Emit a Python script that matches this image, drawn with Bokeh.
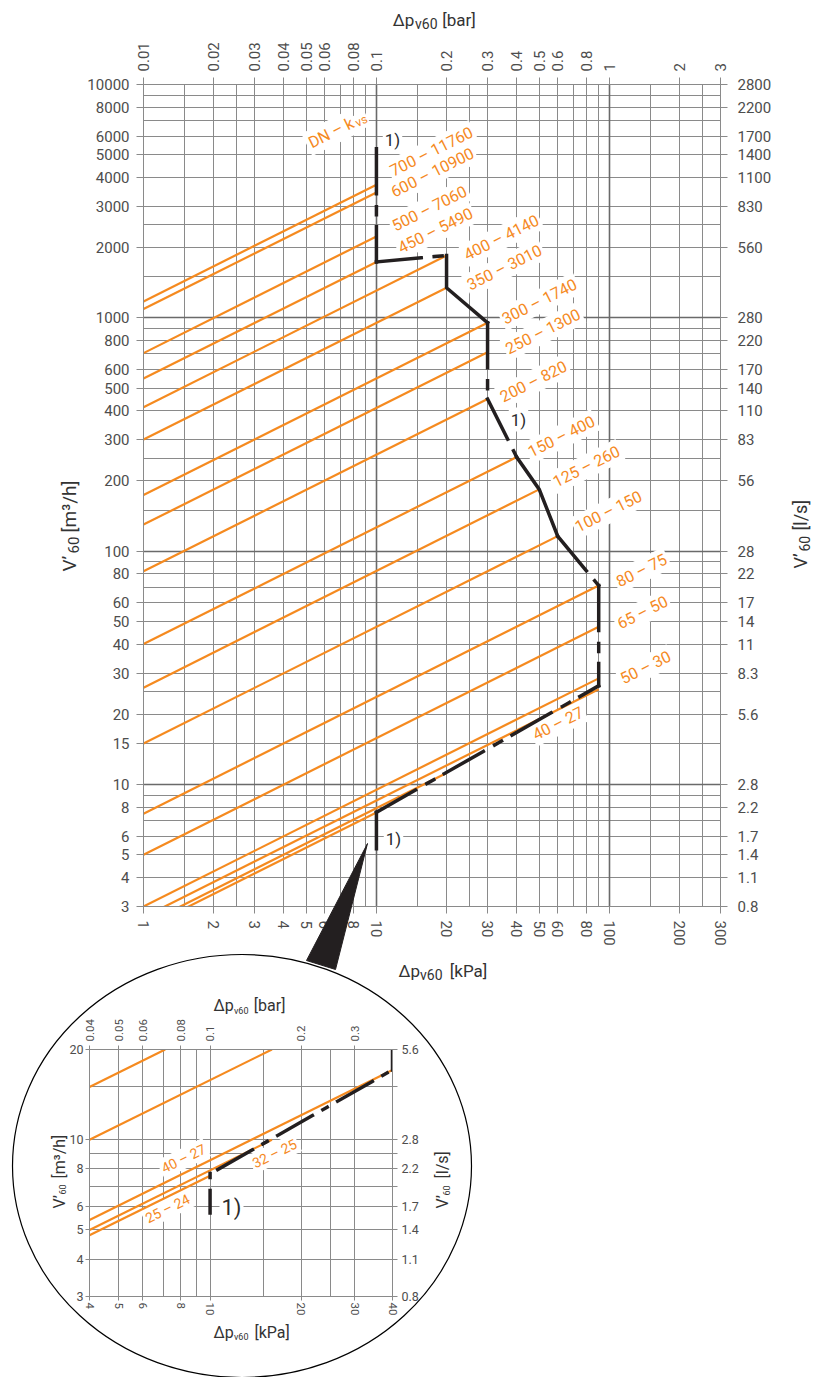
import math
from bokeh.plotting import figure
from bokeh.models import Range1d, LogScale, LogAxis, FixedTicker, Grid, Label, GridBox
from bokeh.core.properties import value
from bokeh.embed import file_html
from bokeh.resources import INLINE

# ------------------------------------------------------------------ data
# Main chart: x = Δp_v60 [kPa], y = V'60 [m³/h]; one straight line per DN – kvs
dn_kvs_labels = ["700 – 11760", "600 – 10900", "500 – 7060", "450 – 5490",
                 "400 – 4140", "350 – 3010", "300 – 1740", "250 – 1300",
                 "200 – 820", "150 – 400", "125 – 260", "100 – 150",
                 "80 – 75", "65 – 50", "50 – 30", "40 – 27", "32 – 25", "25 – 24"]
line_dp_start = [1, 1, 1, 1, 1, 1, 1, 1, 1, 1, 1, 1, 1, 1, 1, 1, 1, 1]
line_q_start = [1176, 1090, 706, 549, 414, 301, 174, 130, 82, 40, 26, 15, 7.5, 5.0, 3.0, 2.7, 2.5, 2.4]
line_dp_end = [10, 10, 10, 10, 20, 20, 30, 30, 30, 40, 50, 60, 90, 90, 90, 90, 20, 10]
line_q_end = [3719, 3447, 2233, 1736, 1851, 1346, 953, 712, 449, 253, 184, 116, 71.2, 47.4, 28.5, 25.6, 11.2, 7.59]

# black limit curve (vertices)
limit_dp = [10, 10, 20, 20, 30, 30, 40, 50, 60, 90, 90, 10, 10]
limit_q = [5300, 1736, 1851, 1346, 953, 449, 253, 184, 116, 71.2, 26.5, 7.6, 5.3]

kpa_ticks = [1, 2, 3, 4, 5, 6, 8, 10, 20, 30, 40, 50, 60, 80, 100, 200, 300]
bar_ticks = [0.01, 0.02, 0.03, 0.04, 0.05, 0.06, 0.08, 0.1, 0.2, 0.3, 0.4, 0.5, 0.6, 0.8, 1, 2, 3]
m3h_ticks = [3, 4, 5, 6, 8, 10, 15, 20, 30, 40, 50, 60, 80, 100, 200, 300, 400, 500, 600, 800,
             1000, 2000, 3000, 4000, 5000, 6000, 8000, 10000]
ls_ticks = [3, 4, 5, 6, 8, 10, 20, 30, 40, 50, 60, 80, 100, 200, 300, 400, 500, 600, 800,
            1000, 2000, 3000, 4000, 5000, 6000, 8000, 10000]
ls_labels = ["0.8", "1.1", "1.4", "1.7", "2.2", "2.8", "5.6", "8.3", "11", "14", "17", "22", "28",
             "56", "83", "110", "140", "170", "220", "280", "560", "830", "1100", "1400", "1700",
             "2200", "2800"]
grid_kpa = [1, 1.5, 2, 2.5, 3, 4, 5, 6, 7, 8, 9, 10, 15, 20, 25, 30, 40, 50, 60, 70, 80, 90,
            100, 150, 200, 250, 300]
grid_m3h = [3, 4, 5, 6, 7, 8, 9, 10, 15, 20, 25, 30, 40, 50, 60, 70, 80, 90,
            100, 150, 200, 250, 300, 400, 500, 600, 700, 800, 900,
            1000, 1500, 2000, 2500, 3000, 4000, 5000, 6000, 7000, 8000, 9000, 10000]
decade_kpa = [10, 100]
decade_m3h = [10, 100, 1000]

# Inset (detail 4–40 kPa)
inset_labels = ["40 – 27", "32 – 25", "25 – 24"]
inset_dp_start = [4, 4, 4, 4, 4]
inset_q_start = [15, 10, 5.4, 5.0, 4.8]
inset_dp_end = [7.11, 16, 40, 16, 10]
inset_q_end = [20, 20, 17.1, 10, 7.59]
inset_limit_dp = [40, 40, 10.6, 10, 10]
inset_limit_q = [20.6, 17.1, 7.95, 7.72, 5.7]
inset_kpa_ticks = [4, 5, 6, 8, 10, 20, 30, 40]
inset_bar_ticks = [0.04, 0.05, 0.06, 0.08, 0.1, 0.2, 0.3]
inset_m3h_ticks = [3, 4, 5, 6, 8, 10, 20]
inset_ls_ticks = [3, 4, 5, 6, 7, 8, 9, 10, 15, 20]
inset_ls_labels = ["0.8", "1.1", "1.4", "1.7", "", "2.2", "", "2.8", "", "5.6"]
inset_grid_kpa = [4, 5, 6, 7, 8, 9, 10, 15, 20, 25, 30, 40]
inset_grid_m3h = [3, 4, 5, 6, 7, 8, 9, 10, 15, 20]

# ------------------------------------------------------------------ style
W, H = 819, 1377
FONT = "Roboto"
ORANGE = "#F58A1F"
BLACK = "#231F20"
GRID = "#8A8A8A"
GRID_DARK = "#6A6A6A"
TICK_TXT = "#4D4D4D"
TITLE = "#333333"
DASH = "45 13 8 12"

# main frame borders (canvas px)
ML, MR, MT, MB = 143, 99, 84, 471
X0, X1, Y0, Y1 = 1, 300, 3, 10000
# inset frame borders
IL, IR, IT, IB = 89, 427, 1049, 81
IX0, IX1, IY0, IY1 = 4, 40, 3, 20


def to_data(px, py, l, r, t, b, x0, x1, y0, y1):
    fx = (px - l) / (W - l - r)
    fy = (H - b - py) / (H - t - b)
    x = 10 ** (math.log10(x0) + fx * (math.log10(x1) - math.log10(x0)))
    y = 10 ** (math.log10(y0) + fy * (math.log10(y1) - math.log10(y0)))
    return x, y


def mxy(px, py):
    return to_data(px, py, ML, MR, MT, MB, X0, X1, Y0, Y1)


def ixy(px, py):
    return to_data(px, py, IL, IR, IT, IB, IX0, IX1, IY0, IY1)


def style_axis(ax, ticks, labels, size, standoff, tick_out, orient=None):
    ax.ticker = FixedTicker(ticks=ticks, minor_ticks=[])
    ax.major_label_overrides = {t: s for t, s in zip(ticks, labels)}
    ax.major_label_text_font = FONT
    ax.major_label_text_font_size = size
    ax.major_label_text_color = TICK_TXT
    ax.major_label_standoff = standoff
    ax.major_tick_out = tick_out
    ax.major_tick_in = 0
    ax.minor_tick_out = 0
    ax.minor_tick_in = 0
    ax.axis_line_color = GRID
    ax.major_tick_line_color = GRID
    ax.axis_label = None
    if orient is not None:
        ax.major_label_orientation = orient


def add_grid(fig, dim, ticks, color, width):
    fig.add_layout(Grid(dimension=dim, ticker=FixedTicker(ticks=ticks, minor_ticks=[]),
                        grid_line_color=color, grid_line_width=width))


def text(fig, xy, s, size, color=TITLE, align="left", baseline="alphabetic", angle=0.0, **kw):
    """in-frame annotation (knocks out grid lines)"""
    fig.add_layout(Label(x=xy[0], y=xy[1], text=s, text_font=FONT, text_font_size=f"{size}px",
                         text_color=color, text_align=align, text_baseline=baseline,
                         angle=angle, **kw))


def title(fig, xy, s, size, angle=0.0, color=TITLE):
    """text outside the frame (overlay level glyph, not clipped)"""
    fig.text(x=[xy[0]], y=[xy[1]], text=[s], text_font=value(FONT), text_font_size=f"{size}px",
             text_color=color, text_align="left", text_baseline="alphabetic", angle=angle,
             level="overlay")


def seg(fig, xs, ys, dash, width=3.5):
    fig.line(xs, ys, line_color=BLACK, line_width=width, line_dash=dash,
             line_cap="square", line_join="miter")


# ------------------------------------------------------------------ main figure
p = figure(width=W, height=H, x_axis_type="log", y_axis_type="log",
           x_range=Range1d(X0, X1), y_range=Range1d(Y0, Y1),
           output_backend="svg", toolbar_location=None,
           min_border_left=ML, min_border_right=MR, min_border_top=MT, min_border_bottom=MB,
           background_fill_color="white", border_fill_color="white",
           outline_line_color=GRID)
p.frame_align = False
p.grid.visible = False
p.extra_x_ranges = {"bar": Range1d(X0 / 100, X1 / 100)}
p.extra_x_scales = {"bar": LogScale()}

style_axis(p.below[0], kpa_ticks, [f"{t:g}" for t in kpa_ticks], "15px", 7, 7, "vertical")
style_axis(p.left[0], m3h_ticks, [f"{t:g}" for t in m3h_ticks], "15px", 7, 7)
top = LogAxis(x_range_name="bar")
style_axis(top, bar_ticks, [f"{t:g}" for t in bar_ticks], "15px", 6, 7, "vertical")
p.add_layout(top, "above")
right = LogAxis()
style_axis(right, ls_ticks, ls_labels, "15px", 10, 7)
p.add_layout(right, "right")

add_grid(p, 0, grid_kpa, GRID, 1)
add_grid(p, 1, grid_m3h, GRID, 1)
add_grid(p, 0, decade_kpa, GRID_DARK, 1.6)
add_grid(p, 1, decade_m3h, GRID_DARK, 1.6)

ang = math.atan(0.5 * ((H - MT - MB) / math.log10(Y1 / Y0)) / ((W - ML - MR) / math.log10(X1 / X0)))

# labels that knock out the grid (drawn under the lines)
main_label_px = [(431, 151), (432, 172), (429, 208), (435, 230), (501, 237), (504, 267),
                 (539, 301), (542.5, 331), (533, 381), (561, 436), (586, 466), (608, 511),
                 (641, 570), (642, 612), (645, 667), (557.5, 723)]
for s, (px, py) in zip(dn_kvs_labels[:16], main_label_px):
    text(p, mxy(px, py), s, 16, ORANGE, "center", "middle", ang,
         background_fill_color="white", padding=2, level="underlay")

# "DN – kvs"
ax_, ay_ = 355, 120
text(p, mxy(ax_, ay_), "DN – k", 16, ORANGE, "right", "middle", ang,
     background_fill_color="white", padding=3, level="underlay")
text(p, mxy(ax_, ay_), "vs", 12, ORANGE, "left", "middle", ang,
     background_fill_color="white", padding=1, level="underlay",
     x_offset=-2 * math.cos(ang) + 3 * math.sin(ang), y_offset=-2 * math.sin(ang) - 3 * math.cos(ang))

for (px, py) in [(392, 139), (518, 419), (393, 838)]:
    text(p, mxy(px, py), "1)", 17, "#2B2B2B", "center", "middle", 0,
         background_fill_color="white", padding=2, level="underlay")

# orange DN lines
p.multi_line(xs=[[a, b] for a, b in zip(line_dp_start, line_dp_end)],
             ys=[[a, b] for a, b in zip(line_q_start, line_q_end)],
             line_color=ORANGE, line_width=2.2)

# black limit curve: (from vertex, to vertex, style)
runs = [(0, 1, DASH), (1, 2, DASH), (2, 4, "solid"), (4, 5, DASH), (5, 6, DASH),
        (6, 8, "solid"), (8, 9, DASH), (9, 10, DASH), (11, 10, DASH), (11, 12, "solid")]
for a, b, d in runs:
    idx = list(range(a, b + 1)) if a < b else list(range(a, b - 1, -1))
    seg(p, [limit_dp[i] for i in idx], [limit_q[i] for i in idx], d)

# pointer triangle towards the inset
tri = [mxy(367, 843), mxy(306, 960), mxy(335, 969)]
p.patch([t[0] for t in tri], [t[1] for t in tri], fill_color=BLACK, line_color=BLACK,
        line_width=1, level="overlay")

# axis titles
title(p, mxy(392.3, 19.5), "Δp", 17)
title(p, mxy(414.5, 23.5), "v60", 14)
title(p, mxy(441.7, 19.5), "[bar]", 17)
title(p, mxy(398, 970), "Δp", 17)
title(p, mxy(419.5, 974), "v60", 14)
title(p, mxy(449.3, 970), "[kPa]", 17)
title(p, mxy(69, 571), "V’", 19, math.pi / 2)
title(p, mxy(72.5, 553), "60", 15, math.pi / 2)
title(p, mxy(69, 532), "[m³/h]", 19, math.pi / 2)
title(p, mxy(800, 568), "V’", 18, math.pi / 2)
title(p, mxy(803.5, 551), "60", 14, math.pi / 2)
title(p, mxy(800, 530), "[l/s]", 18, math.pi / 2)

# ------------------------------------------------------------------ inset figure
q = figure(width=W, height=H, x_axis_type="log", y_axis_type="log",
           x_range=Range1d(IX0, IX1), y_range=Range1d(IY0, IY1),
           output_backend="svg", toolbar_location=None,
           min_border_left=IL, min_border_right=IR, min_border_top=IT, min_border_bottom=IB,
           background_fill_color="white", border_fill_color=None,
           outline_line_color=GRID)
q.frame_align = False
q.grid.visible = False
q.extra_x_ranges = {"bar": Range1d(IX0 / 100, IX1 / 100)}
q.extra_x_scales = {"bar": LogScale()}
style_axis(q.below[0], inset_kpa_ticks, [f"{t:g}" for t in inset_kpa_ticks], "11.5px", 2, 4, "vertical")
style_axis(q.left[0], inset_m3h_ticks, [f"{t:g}" for t in inset_m3h_ticks], "12.5px", 2, 4)
itop = LogAxis(x_range_name="bar")
style_axis(itop, inset_bar_ticks, [f"{t:g}" for t in inset_bar_ticks], "11.5px", 4, 4, "vertical")
q.add_layout(itop, "above")
iright = LogAxis()
style_axis(iright, inset_ls_ticks, inset_ls_labels, "12.5px", 4, 5)
q.add_layout(iright, "right")

add_grid(q, 0, inset_grid_kpa, GRID, 1)
add_grid(q, 1, inset_grid_m3h, GRID, 1)

iang = math.atan(0.5 * ((H - IT - IB) / math.log10(IY1 / IY0)) / ((W - IL - IR) / math.log10(IX1 / IX0)))
for s, (px, py) in zip(inset_labels, [(183, 1158), (274, 1153), (167, 1208)]):
    text(q, ixy(px, py), s, 14, ORANGE, "center", "middle", iang,
         background_fill_color="white", padding=2, level="underlay")
text(q, ixy(231, 1207), "1)", 22, "#2B2B2B", "center", "middle", 0,
     background_fill_color="white", padding=2, level="underlay")

q.multi_line(xs=[[a, b] for a, b in zip(inset_dp_start, inset_dp_end)],
             ys=[[a, b] for a, b in zip(inset_q_start, inset_q_end)],
             line_color=ORANGE, line_width=2.2)
seg(q, inset_limit_dp[0:2], inset_limit_q[0:2], "solid")
seg(q, [inset_limit_dp[2], inset_limit_dp[1]], [inset_limit_q[2], inset_limit_q[1]], "40 12 5 12")
seg(q, inset_limit_dp[3:5], inset_limit_q[3:5], "4 13 40")

# inset titles
title(q, ixy(213, 1005), "Δp", 16)
title(q, ixy(233.5, 1010), "v60", 9)
title(q, ixy(253.3, 1005), "[bar]", 16)
title(q, ixy(213, 1331.7), "Δp", 16)
title(q, ixy(233.5, 1336.5), "v60", 9)
title(q, ixy(254, 1331.7), "[kPa]", 16)
title(q, ixy(58.5, 1208), "V’", 16, math.pi / 2)
title(q, ixy(62, 1194), "60", 9, math.pi / 2)
title(q, ixy(58.5, 1178), "[m³/h]", 16, math.pi / 2)
title(q, ixy(442, 1208), "V’", 16, math.pi / 2)
title(q, ixy(446, 1195), "60", 9, math.pi / 2)
title(q, ixy(442, 1178), "[l/s]", 16, math.pi / 2)

# circular frame of the inset
cx, cy = ixy(241.5, 1165.5)
q.ellipse(x=[cx], y=[cy], width=459, height=423, width_units="screen", height_units="screen",
          fill_color=None, line_color="black", line_width=1.2, level="overlay")

layout = GridBox(children=[(p, 0, 0), (q, 0, 0)])
open("out.html", "w").write(file_html(layout, INLINE))
